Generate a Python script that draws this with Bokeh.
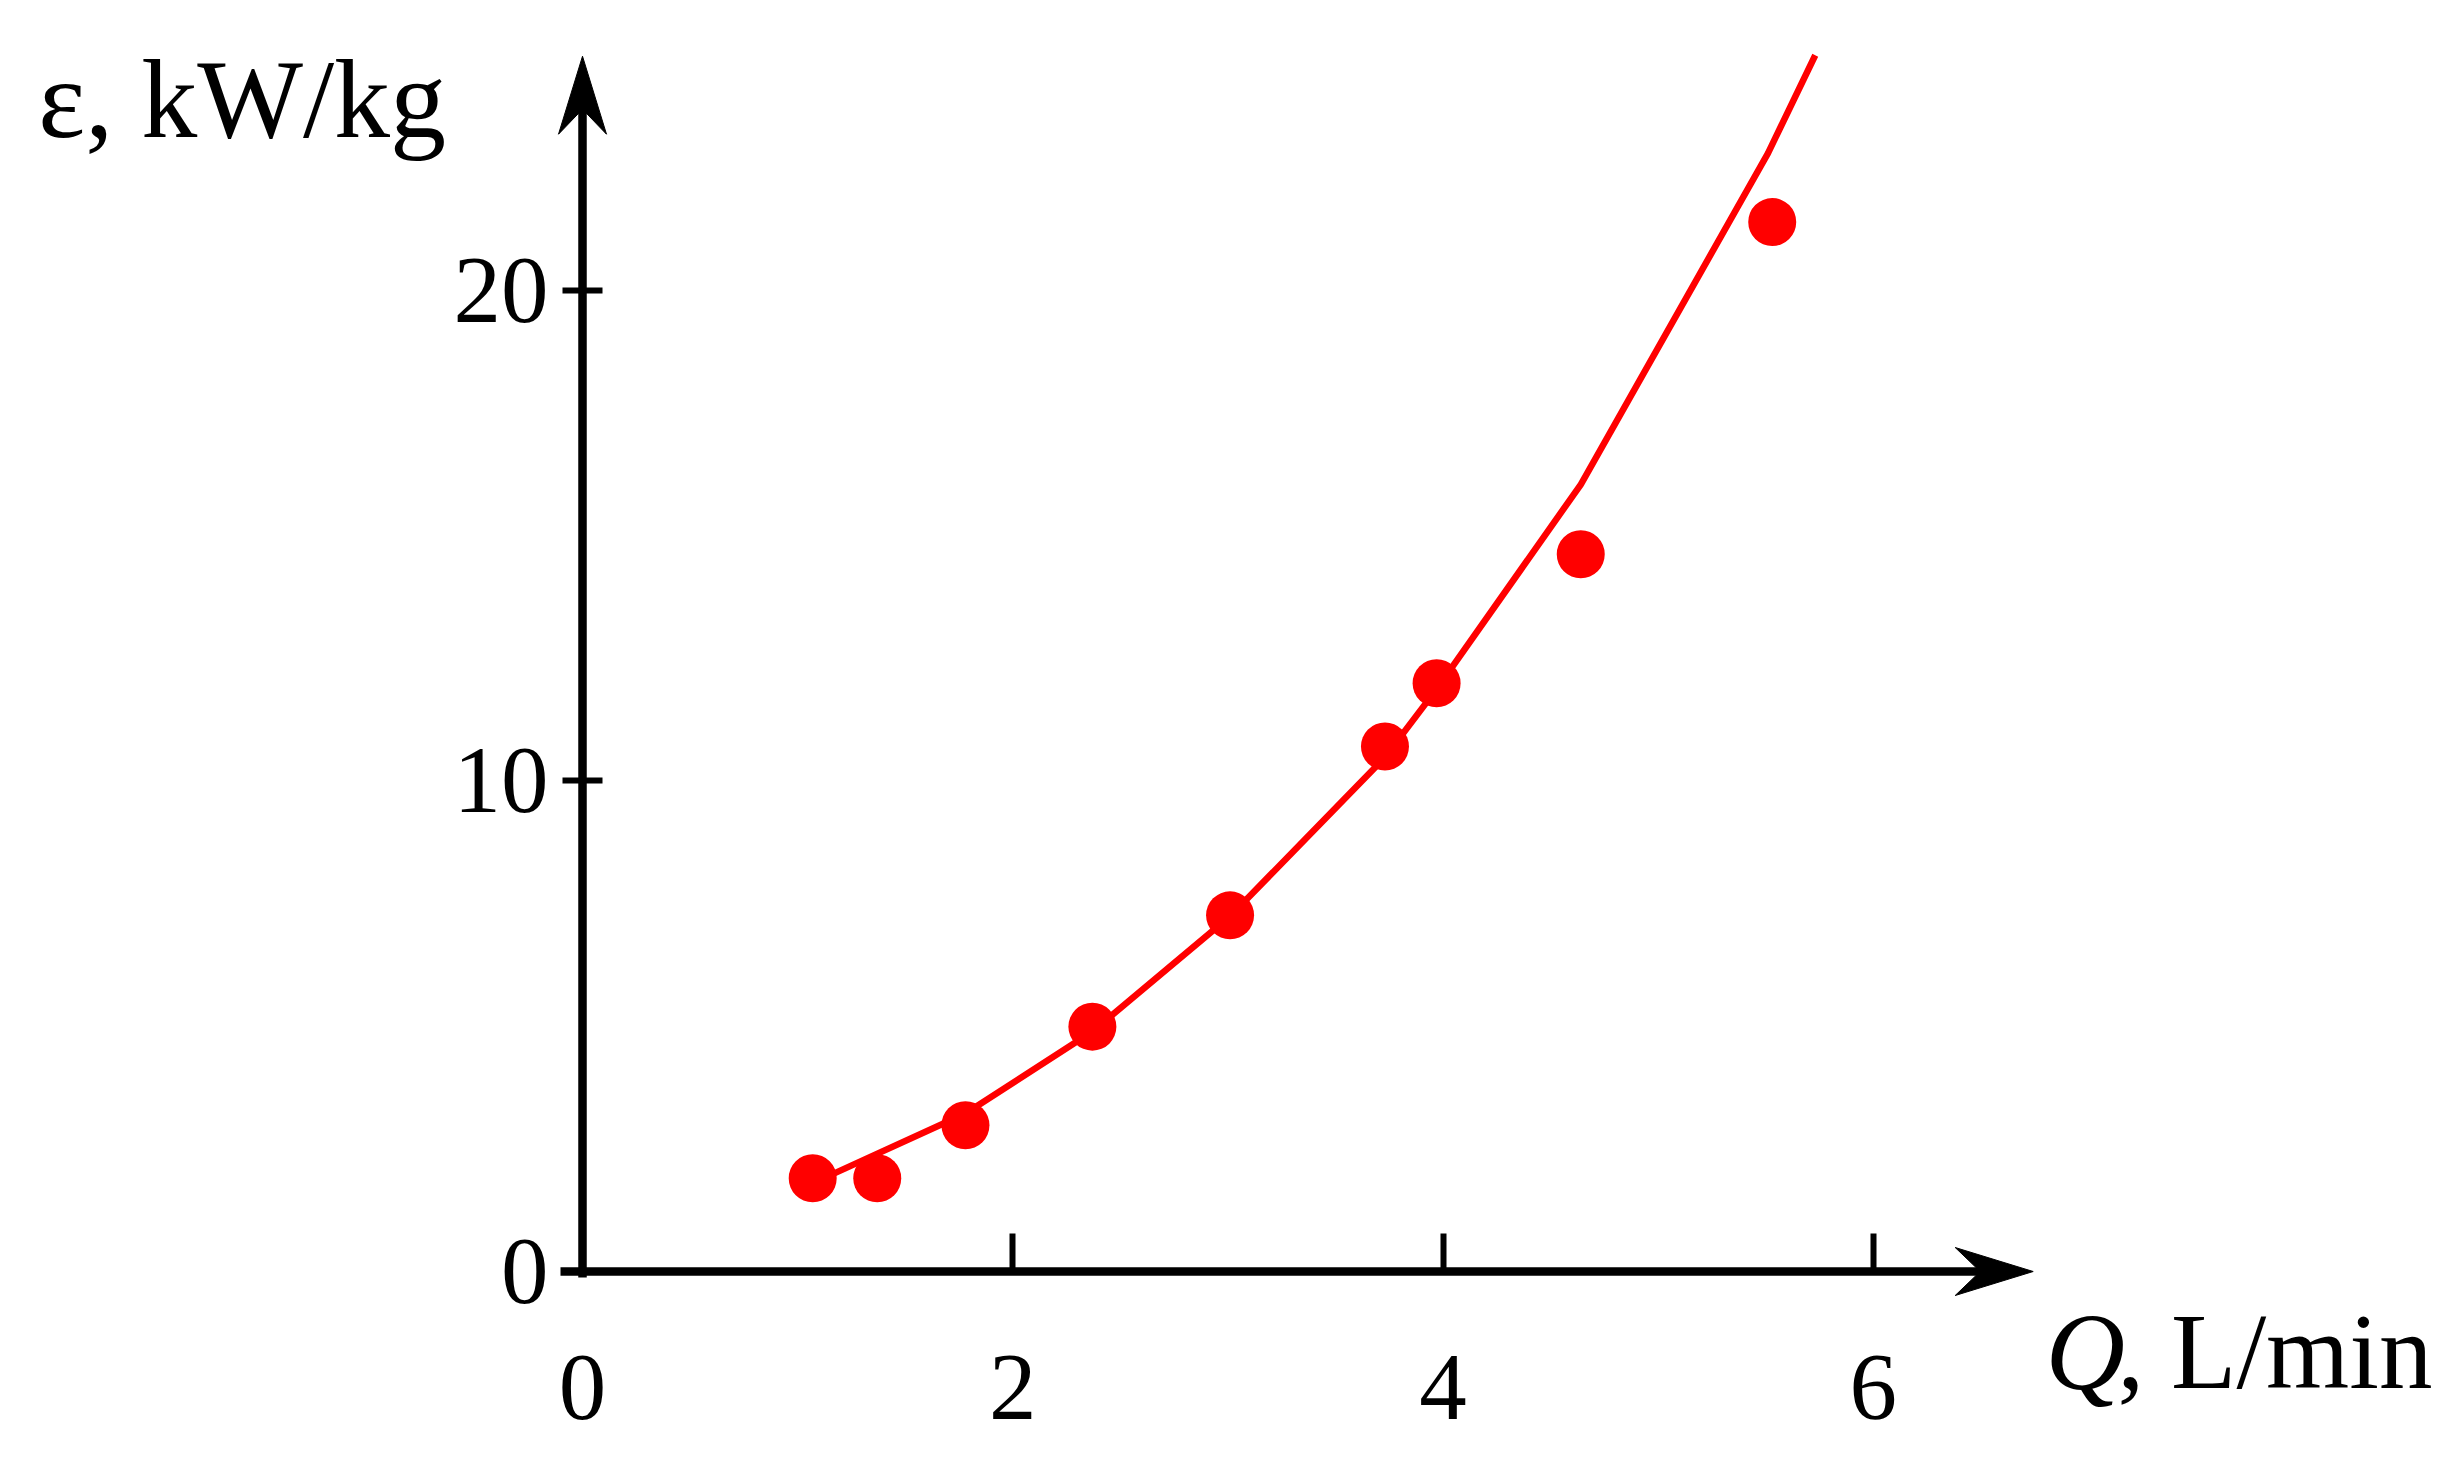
from bokeh.plotting import figure
from bokeh.models import FixedTicker, Label, Range1d
from bokeh.embed import file_html
from bokeh.resources import INLINE

# ---- data ----
q_points = [1.07, 1.37, 1.78, 2.37, 3.01, 3.73, 3.97, 4.64, 5.53]
eps_points = [1.90, 1.90, 2.98, 4.99, 7.26, 10.70, 11.99, 14.62, 21.39]
q_fit = [1.16, 1.78, 2.37, 3.01, 3.73, 3.97, 4.64, 5.51, 5.73]
eps_fit = [1.98, 3.22, 4.89, 7.24, 10.48, 11.87, 16.04, 22.79, 24.79]
q_ticks = [0, 2, 4, 6]
eps_ticks = [0, 10, 20]

# ---- layout constants ----
W, H = 2445, 1457
ORIGIN_X_PX, ORIGIN_Y_PX = 582, 1271      # where (0, 0) sits on the canvas
PX_PER_Q = 215.14                          # px per L/min
PX_PER_EPS = 49.0625                       # px per kW/kg
X_ARROW_TIP = 6.743
Y_ARROW_TIP = 24.77
ARROW_LEN_PX, ARROW_HALF_PX, ARROW_NOTCH_PX = 78, 24, 25

FONT = "Liberation Serif"
RED = "#FF0000"

x_range = Range1d(-ORIGIN_X_PX / PX_PER_Q, (W - ORIGIN_X_PX) / PX_PER_Q)
y_range = Range1d(-(H - ORIGIN_Y_PX) / PX_PER_EPS, ORIGIN_Y_PX / PX_PER_EPS)

p = figure(
    width=W, height=H,
    min_border=0, min_border_left=0, min_border_right=0,
    min_border_top=0, min_border_bottom=0,
    x_range=x_range, y_range=y_range,
    output_backend="svg", toolbar_location=None,
    background_fill_color="white", border_fill_color="white",
)
p.title.text = ""
p.grid.visible = False
p.outline_line_color = None

xa = p.xaxis[0]
ya = p.yaxis[0]
xa.fixed_location = 0
ya.fixed_location = 0
xa.ticker = FixedTicker(ticks=q_ticks)
ya.ticker = FixedTicker(ticks=eps_ticks)
xa.bounds = (-0.1, 6.6)
ya.bounds = (-0.12, 24.2)
for ax in (xa, ya):
    ax.axis_line_width = 8.5
    ax.axis_line_color = "black"
    ax.major_tick_line_width = 6
    ax.major_tick_line_color = "black"
    ax.minor_tick_line_color = None
    ax.major_label_text_font = FONT
    ax.major_label_text_font_size = "95px"
    ax.major_label_text_color = "black"
xa.major_tick_in = 38
xa.major_tick_out = 0
xa.major_label_standoff = 84
ya.major_tick_in = 20
ya.major_tick_out = 20
ya.major_label_standoff = 14

# arrow heads (notched), sized in pixels and converted through the scales
L = ARROW_LEN_PX
N = ARROW_NOTCH_PX
HW = ARROW_HALF_PX
xh_x = [X_ARROW_TIP, X_ARROW_TIP - L / PX_PER_Q, X_ARROW_TIP - (L - N) / PX_PER_Q, X_ARROW_TIP - L / PX_PER_Q]
xh_y = [0, HW / PX_PER_EPS, 0, -HW / PX_PER_EPS]
p.patch(xh_x, xh_y, fill_color="black", line_color="black", line_width=1)
yh_x = [0, HW / PX_PER_Q, 0, -HW / PX_PER_Q]
yh_y = [Y_ARROW_TIP, Y_ARROW_TIP - L / PX_PER_EPS, Y_ARROW_TIP - (L - N) / PX_PER_EPS, Y_ARROW_TIP - L / PX_PER_EPS]
p.patch(yh_x, yh_y, fill_color="black", line_color="black", line_width=1)

# data
p.line(q_fit, eps_fit, line_color=RED, line_width=6.5)
p.scatter(q_points, eps_points, size=48, fill_color=RED, line_color=None)

# axis titles
p.add_layout(Label(x=-2.53, y=23.89, text="ε, kW/kg", text_font=FONT,
                   text_font_size="112px", text_baseline="alphabetic", text_align="left",
                   text_color="black"))
p.add_layout(Label(x=6.80, y=-1.65, text="Q", text_font=FONT, text_font_style="italic",
                   text_font_size="110px", text_baseline="alphabetic", text_align="left",
                   text_color="black"))
p.add_layout(Label(x=7.135, y=-1.65, text=", L/min", text_font=FONT,
                   text_font_size="107px", text_baseline="alphabetic", text_align="left",
                   text_color="black"))

open("out.html", "w").write(file_html(p, INLINE))
